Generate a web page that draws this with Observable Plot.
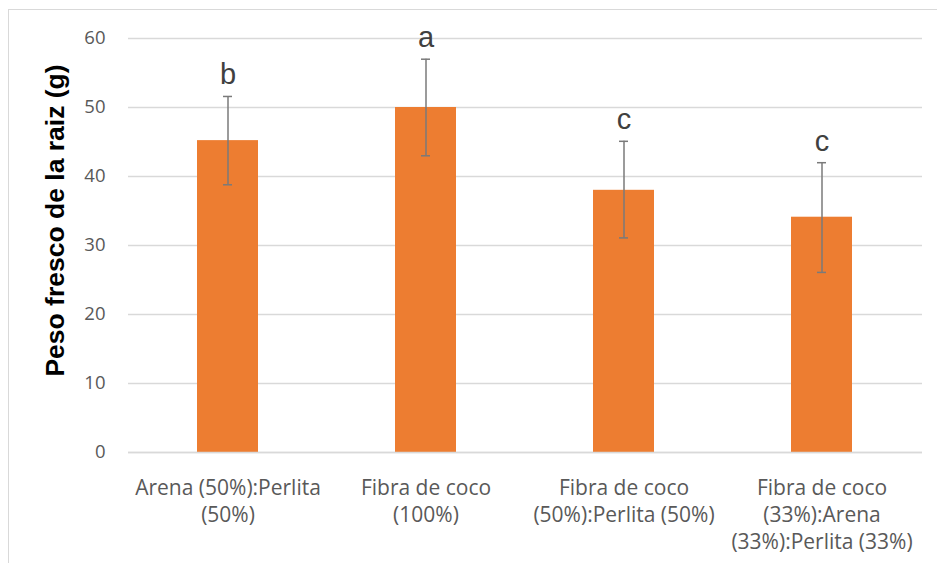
<!DOCTYPE html>
<html><head><meta charset="utf-8">
<script src="https://cdn.jsdelivr.net/npm/d3@7"></script>
<script src="https://cdn.jsdelivr.net/npm/@observablehq/plot@0.6"></script>
<style>
html,body{margin:0;padding:0;background:#fff;overflow:hidden;}
#wrap{position:relative;width:937px;height:563px;overflow:hidden;}
#frame{position:absolute;left:8px;top:9px;width:1000px;height:1000px;border:1.5px solid #d9d9d9;}
#chart{position:absolute;left:0;top:0;}
</style></head><body>
<div id="wrap"><div id="frame"></div><div id="chart"></div></div>
<script>
const categories = [
  "Arena (50%):Perlita\n(50%)",
  "Fibra de coco\n(100%)",
  "Fibra de coco\n(50%):Perlita (50%)",
  "Fibra de coco\n(33%):Arena\n(33%):Perlita (33%)"
];
const means = [45.2, 50.0, 38.0, 34.1];
const errLow = [38.8, 43.0, 31.1, 26.1];
const errHigh = [51.6, 57.0, 45.1, 42.0];
const letters = ["b", "a", "c", "c"];
const yTicks = [0, 10, 20, 30, 40, 50, 60];
const yLabel = "Peso fresco de la raiz (g)";

const data = categories.map((c, i) => ({cat: c, mean: means[i], lo: errLow[i], hi: errHigh[i], letter: letters[i]}));

const chart = Plot.plot({
  width: 937,
  height: 563,
  marginLeft: 128,
  marginRight: 15,
  marginTop: 38,
  marginBottom: 111,
  style: {fontFamily: "'Liberation Sans', Arial, sans-serif", background: "transparent"},
  x: {domain: categories, paddingInner: 0.69, paddingOuter: 0.345},
  y: {domain: [0, 60]},
  marks: [
    Plot.gridY(yTicks, {stroke: "#d9d9d9", strokeOpacity: 1, strokeWidth: 1.3}),
    Plot.axisY({ticks: yTicks, tickSize: 0, tickPadding: 23, fontSize: 18.5, fill: "#595959", label: null, fontFamily: "'Open Sans', sans-serif"}),
    Plot.axisX({tickSize: 0, tickPadding: 23, fontSize: 21, lineHeight: 1.29, fill: "#595959", label: null, fontFamily: "'Open Sans', sans-serif"}),
    Plot.barY(data, {x: "cat", y: "mean", fill: "#ED7D31"}),
    Plot.ruleY([0], {stroke: "#d9d9d9", strokeWidth: 1.3}),
    Plot.ruleX(data, {x: "cat", y1: "lo", y2: "hi", stroke: "#7a7a7a", strokeWidth: 1.5}),
    Plot.tickY(data, {x: "cat", y: "hi", insetLeft: 26, insetRight: 26, stroke: "#7a7a7a", strokeWidth: 1.5}),
    Plot.tickY(data, {x: "cat", y: "lo", insetLeft: 26, insetRight: 26, stroke: "#7a7a7a", strokeWidth: 1.5}),
    Plot.text(data, {x: "cat", y: "hi", text: "letter", dy: -12, lineAnchor: "bottom", fontSize: 29, fill: "#404040"}),
    Plot.text([yLabel], {frameAnchor: "left", textAnchor: "middle", lineAnchor: "middle", dx: -73, dy: -25, rotate: -90, fontWeight: "bold", fontSize: 26.5, fill: "#000"})
  ]
});
document.getElementById("chart").appendChild(chart);
</script>
</body></html>
